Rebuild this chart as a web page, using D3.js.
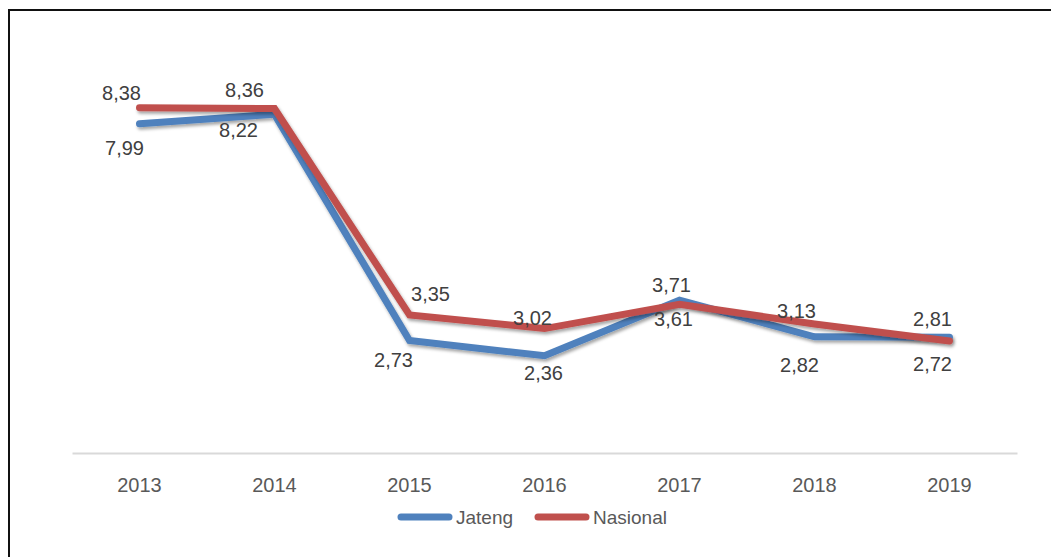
<!DOCTYPE html>
<html>
<head>
<meta charset="utf-8">
<script src="https://cdn.jsdelivr.net/npm/d3@7"></script>
<style>
  body { margin: 0; background: #fff; }
  svg { display: block; }
</style>
</head>
<body>
<svg></svg>
<script>
// years on the x axis
var years = ["2013", "2014", "2015", "2016", "2017", "2018", "2019"];
// series values
var jateng = [7.99, 8.22, 2.73, 2.36, 3.71, 2.82, 2.81];
var nasional = [8.38, 8.36, 3.35, 3.02, 3.61, 3.13, 2.72];
var seriesNames = ["Jateng", "Nasional"];

// label nudges (px) to mimic excel's placement
var jatengNudge = [[-15, 31], [-36, 23], [-16, 26], [-1, 24], [-8, -8], [-15, 35], [-17, -11]];
var nasionalNudge = [[-18, -8], [-30, -12], [21, -14], [-12, -4], [-6, 22], [-18, -6], [-17, 30]];

var svgWidth = 1051, svgHeight = 557;
var colors = { Jateng: "#4F81BD", Nasional: "#C0504D" };
var font = "'Liberation Sans', Arial, sans-serif";

var svg = d3.select("svg")
  .attr("width", svgWidth)
  .attr("height", svgHeight);

// drop shadow like the office chart
var defs = svg.append("defs");
defs.append("filter")
  .attr("id", "shadow")
  .attr("x", "-5%").attr("y", "-20%")
  .attr("width", "110%").attr("height", "140%")
  .append("feDropShadow")
  .attr("dx", 1.5).attr("dy", 2.5)
  .attr("stdDeviation", 1.6)
  .attr("flood-color", "#000")
  .attr("flood-opacity", 0.35);

// frame (only top and left visible)
svg.append("path")
  .attr("d", "M9," + svgHeight + "V10H" + svgWidth)
  .attr("fill", "none")
  .attr("stroke", "#111")
  .attr("stroke-width", 2);

var x = d3.scaleBand()
  .domain(years)
  .range([72, 1017]);

var y = d3.scaleLinear()
  .domain([0, 10])
  .range([453, 41]);

// x axis
var xAxis = svg.append("g")
  .attr("transform", "translate(0," + y(0) + ")")
  .call(d3.axisBottom(x).tickSize(0).tickPadding(25));
xAxis.select(".domain")
  .attr("stroke", "#d9d9d9")
  .attr("stroke-width", 2);
xAxis.selectAll("text")
  .attr("fill", "#595959")
  .attr("font-family", font)
  .attr("font-size", "20px");

var line = d3.line()
  .x(function(d, i) { return x(years[i]) + x.bandwidth() / 2; })
  .y(function(d) { return y(d); });

var series = [
  { name: "Jateng", values: jateng, nudge: jatengNudge },
  { name: "Nasional", values: nasional, nudge: nasionalNudge }
];

series.forEach(function(s) {
  svg.append("path")
    .datum(s.values)
    .attr("fill", "none")
    .attr("stroke", colors[s.name])
    .attr("stroke-width", 7)
    .attr("stroke-linejoin", "miter")
    .attr("stroke-linecap", "round")
    .attr("filter", "url(#shadow)")
    .attr("d", line);
});

// data labels
series.forEach(function(s) {
  svg.append("g")
    .selectAll("text")
    .data(s.values)
    .enter()
    .append("text")
    .attr("x", function(d, i) { return x(years[i]) + x.bandwidth() / 2 + s.nudge[i][0]; })
    .attr("y", function(d, i) { return y(d) + s.nudge[i][1]; })
    .attr("text-anchor", "middle")
    .attr("fill", "#404040")
    .attr("font-family", font)
    .attr("font-size", "20px")
    .text(function(d) { return d.toFixed(2).replace(".", ","); });
});

// legend
var legendX = [398, 535];
var legend = svg.append("g");
seriesNames.forEach(function(name, i) {
  legend.append("line")
    .attr("x1", legendX[i] + 3).attr("x2", legendX[i] + 51)
    .attr("y1", 517).attr("y2", 517)
    .attr("stroke", colors[name])
    .attr("stroke-width", 7)
    .attr("stroke-linecap", "round");
  legend.append("text")
    .attr("x", legendX[i] + 58)
    .attr("y", 524)
    .attr("fill", "#595959")
    .attr("font-family", font)
    .attr("font-size", "19px")
    .text(name);
});
</script>
</body>
</html>
